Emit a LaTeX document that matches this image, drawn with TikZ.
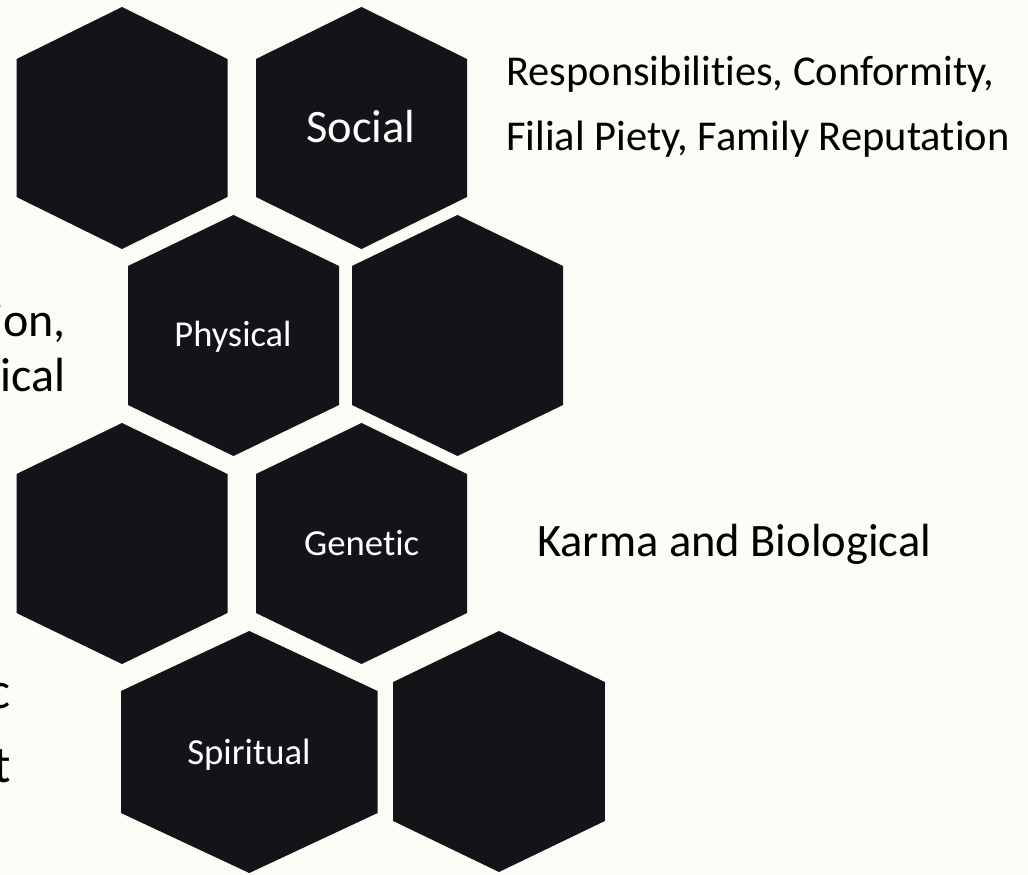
\documentclass[tikz,border=0pt]{standalone}
\usepackage{fontspec}
\setmainfont{Carlito}[Ligatures=NoCommon]
\definecolor{bg}{RGB}{252,251,246}
\definecolor{hexfill}{RGB}{19,20,24}
\tikzset{
  hexshape/.style={fill=hexfill, draw=none},
  inlabel/.style={text=white, inner sep=0pt, anchor=base},
  outlabel/.style={text=black, inner sep=0pt},
}
% #1 name, #2 cx, #3 top y, #4 half width, #5 shoulder offset, #6 side length
\newcommand\hexagonat[6]{%
  \coordinate (#1) at (#2,#3+#5+#6/2);
  \fill[hexshape] (#2,#3) -- (#2+#4,#3+#5) -- (#2+#4,#3+#5+#6) -- (#2,#3+2*#5+#6)
    -- (#2-#4,#3+#5+#6) -- (#2-#4,#3+#5) -- cycle;}
\begin{document}
\begin{tikzpicture}[x=1pt,y=-1pt]
\fill[bg] (0,0) rectangle (1028,875);
\useasboundingbox (0,0) rectangle (1028,875);
% row 1
\hexagonat{hA}{122}{7}{105.5}{52}{138}
\hexagonat{hB}{361.5}{7}{105.5}{52}{138}
% row 2
\hexagonat{hC}{233.5}{215}{105.5}{51}{139}
\hexagonat{hD}{457.5}{215}{105.5}{51}{139}
% row 3
\hexagonat{hE}{122}{423}{105.5}{51}{139}
\hexagonat{hF}{361.5}{423}{105.5}{51}{139}
% row 4
\hexagonat{hG}{249.3}{631}{128.3}{60}{122}
\hexagonat{hH}{499}{631}{105.8}{51}{139}
% labels inside
\node[inlabel, font=\fontsize{46.5}{56}\selectfont] (social) at (361,142) {Social};
\node[inlabel, font=\fontsize{36.5}{44}\selectfont] (physical) at (233,346.7) {Physical};
\node[inlabel, font=\fontsize{36.7}{44}\selectfont] (genetic) at (361.7,555.7) {Genetic};
\node[inlabel, font=\fontsize{36.7}{44}\selectfont] (spiritual) at (249,764) {Spiritual};
% outside texts
\node[outlabel, anchor=base west, font=\fontsize{42.5}{50}\selectfont] (resp1) at (506,85.6) {Responsibilities, Conformity,};
\node[outlabel, anchor=base west, font=\fontsize{42.5}{50}\selectfont] (resp2) at (506,150.2) {Filial Piety, Family Reputation};
\node[outlabel, anchor=base west, font=\fontsize{46.5}{56}\selectfont] (karma) at (537,556) {Karma and Biological};
\node[outlabel, anchor=base east, font=\fontsize{48}{58}\selectfont] (left1) at (66,336.7) {ion,};
\node[outlabel, anchor=base east, font=\fontsize{48}{58}\selectfont] (left2) at (66,391.7) {ical};
\node[outlabel, anchor=base east, font=\fontsize{52}{62}\selectfont] (left3) at (11,708) {c};
\node[outlabel, anchor=base east, font=\fontsize{52}{62}\selectfont] (left4) at (11,782) {t};
\end{tikzpicture}
\end{document}
